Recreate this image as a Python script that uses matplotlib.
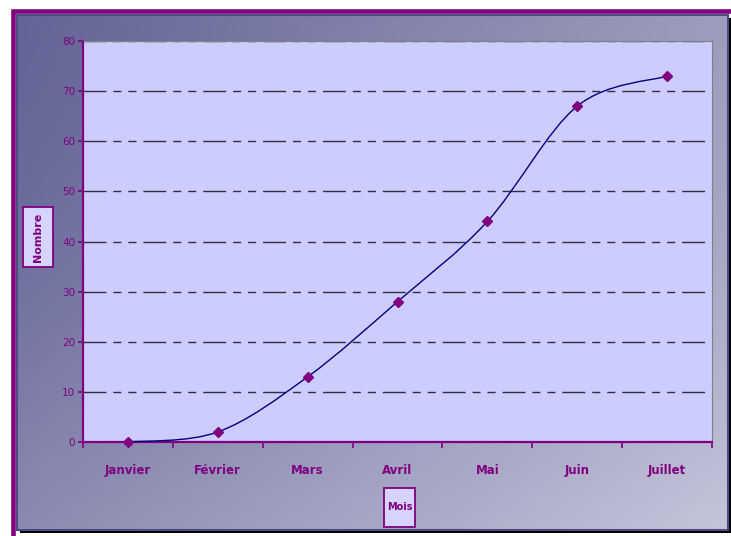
import numpy as np
import matplotlib.pyplot as plt
from matplotlib.path import Path
from matplotlib.patches import PathPatch, Rectangle

# data
mois = ['Janvier', 'Février', 'Mars', 'Avril', 'Mai', 'Juin', 'Juillet']
nombre = [0, 2, 13, 28, 44, 67, 73]
y_ticks = [0, 10, 20, 30, 40, 50, 60, 70, 80]

W, H = 731, 536
PURPLE = '#800080'
NAVY = '#000080'


def fx(px):
    return px / W


def fy(py):
    return 1 - py / H


def box(x0, y0, x1, y1):
    # pixel box (top-left origin) -> figure fraction rect
    return [fx(x0), fy(y1), fx(x1) - fx(x0), fy(y0) - fy(y1)]


fig = plt.figure(figsize=(W / 100, H / 100), dpi=100)
fig.patch.set_facecolor('white')

# purple outer frame, cut off on the right and bottom
r = box(13, 10.5, 800, 700)
fig.patches.append(Rectangle((r[0], r[1]), r[2], r[3], transform=fig.transFigure,
                             fill=False, edgecolor=PURPLE, linewidth=3.3, zorder=-3))

# shadow of the chart area
r = box(20, 18, 732, 533)
fig.patches.append(Rectangle((r[0], r[1]), r[2], r[3], transform=fig.transFigure,
                             facecolor='black', edgecolor='none', zorder=-2))

# gradient chart area
ax_bg = fig.add_axes(box(17, 15, 728, 530))
ax_bg.set_zorder(-1)
u, v = np.meshgrid(np.linspace(0, 1, 200), np.linspace(0, 1, 200))
t = u * 0.6 + v ** 1.5 * 0.4
c0 = np.array([100, 100, 150]) / 255
c1 = np.array([196, 196, 218]) / 255
grad = c0[None, None, :] * (1 - t[..., None]) + c1[None, None, :] * t[..., None]
ax_bg.imshow(grad, aspect='auto', extent=(0, 1, 0, 1), origin='upper')
ax_bg.set_xticks([])
ax_bg.set_yticks([])
for s in ax_bg.spines.values():
    s.set_color('#4c4c80')
    s.set_linewidth(1.5)

# plot area
ax = fig.add_axes(box(83, 41, 712, 442))
ax.set_zorder(1)
ax.set_facecolor('#CCCCFF')
ax.set_xlim(-0.5, len(mois) - 0.5)
ax.set_ylim(0, 80)

for yv in y_ticks[1:]:
    ax.axhline(yv, color='#2e2e3e', linewidth=1.0,
               linestyle=(0, (16.5, 5, 5.8, 5, 5.8, 5)), zorder=1)

# smoothed line (Excel-style bezier)
xs = np.arange(len(nombre))
n = len(nombre)
verts = [(xs[0], nombre[0])]
codes = [Path.MOVETO]
for i in range(n - 1):
    a = i - 1 if i > 0 else i
    b = i + 2 if i + 2 < n else i + 1
    c1p = (xs[i] + (xs[i + 1] - xs[a]) / 6, nombre[i] + (nombre[i + 1] - nombre[a]) / 6)
    c2p = (xs[i + 1] - (xs[b] - xs[i]) / 6, nombre[i + 1] - (nombre[b] - nombre[i]) / 6)
    verts += [c1p, c2p, (xs[i + 1], nombre[i + 1])]
    codes += [Path.CURVE4] * 3
ax.add_patch(PathPatch(Path(verts, codes), facecolor='none', edgecolor=NAVY,
                       linewidth=1.0, zorder=3))
ax.plot(xs, nombre, linestyle='none', marker='D', markersize=5.5,
        color=PURPLE, zorder=4, clip_on=False)

# axes styling
ax.spines['left'].set_color(PURPLE)
ax.spines['bottom'].set_color(PURPLE)
ax.spines['left'].set_linewidth(1.6)
ax.spines['bottom'].set_linewidth(1.6)
ax.spines['top'].set_color('#808080')
ax.spines['right'].set_color('#808080')

ax.set_yticks(y_ticks)
ax.set_yticklabels([str(v) for v in y_ticks])
ax.tick_params(axis='y', colors=PURPLE, length=3.6, width=1.2, pad=2, labelsize=7.5)

ax.set_xticks(xs)
ax.set_xticklabels(mois, fontweight='bold')
ax.set_xticks(np.arange(-0.5, len(mois)), minor=True)
ax.tick_params(axis='x', which='major', length=0, pad=16, labelsize=8.5, colors=PURPLE)
ax.tick_params(axis='x', which='minor', length=4, width=1.2, color=PURPLE)

# axis title boxes
r = box(23, 207, 53, 267)
fig.patches.append(Rectangle((r[0], r[1]), r[2], r[3], transform=fig.transFigure,
                             facecolor='#D4D4FF', edgecolor=PURPLE, linewidth=1.3, zorder=2))
fig.text(fx(38), fy(237), 'Nombre', rotation=90, ha='center', va='center',
         fontsize=8, fontweight='bold', color=PURPLE, zorder=3)

r = box(384, 488, 415, 527)
fig.patches.append(Rectangle((r[0], r[1]), r[2], r[3], transform=fig.transFigure,
                             facecolor='#D4D4FF', edgecolor=PURPLE, linewidth=1.3, zorder=2))
fig.text(fx(399.5), fy(507.5), 'Mois', ha='center', va='center',
         fontsize=7, fontweight='bold', color=PURPLE, zorder=3)

fig.savefig('out.png', dpi=100)
